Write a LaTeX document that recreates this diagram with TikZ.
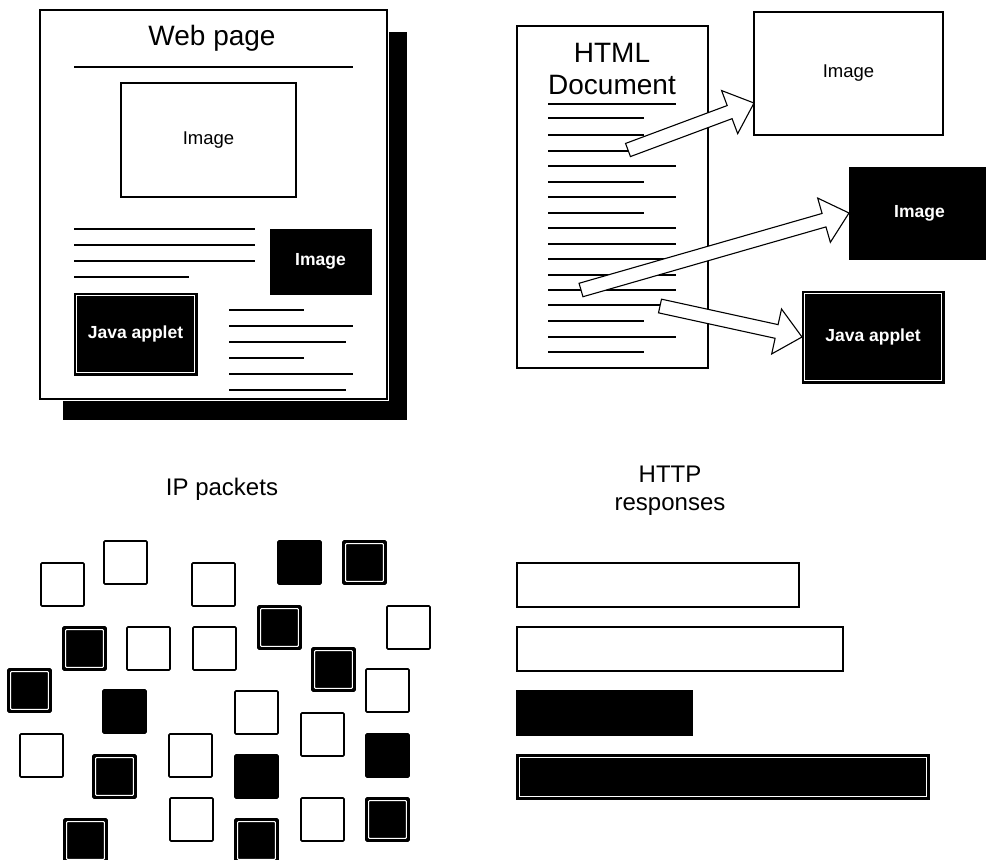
\documentclass[tikz,border=0pt]{standalone}
\usepackage{fontspec}
\setmainfont{Liberation Sans}
\usetikzlibrary{calc}

\tikzset{
  pagebox/.style={draw=black, fill=white, line width=1.2pt, inner sep=0pt, outer sep=0pt},
  wbox/.style={draw=black, fill=white, line width=1.3pt, inner sep=0pt, outer sep=0pt,
    font=\fontsize{18.5}{20}\selectfont},
  bbox/.style={draw=black, fill=black, line width=1pt, inner sep=0pt, outer sep=0pt,
    text=white, font=\bfseries\fontsize{17.5}{19}\selectfont},
  % black box with a thin white line just inside its border
  dbox/.style={bbox, path picture={
    \draw[white, line width=1.1pt]
      ($(path picture bounding box.north west)+(2.6pt,-2.6pt)$) rectangle
      ($(path picture bounding box.south east)+(-2.6pt,2.6pt)$);}},
  txtline/.style={line width=1.3pt},
  title/.style={anchor=base, font=\fontsize{28}{30}\selectfont},
  caption/.style={anchor=base, font=\fontsize{24}{26}\selectfont},
  blockarr/.style={draw=black, fill=white, line width=1.1pt, line join=miter},
  pkt/.style={minimum width=43pt, minimum height=43pt, anchor=north west,
    rounded corners=1pt, line width=1.6pt},
  pkw/.style={wbox, pkt},
  pkb/.style={bbox, pkt},
  pkd/.style={dbox, pkt},
  bar/.style={minimum height=44pt, anchor=north west, line width=1.5pt},
}

% block arrow from a tail point #1 to a tip point #2
\newcommand\blockarrow[2]{%
  \coordinate (#1neck) at ($(#2)!26pt!(#1)$);
  \draw[blockarr]
    ($(#1)!7pt!90:(#2)$) --
    ($(#1neck)!7pt!-90:(#1)$) --
    ($(#1neck)!23pt!-90:(#1)$) --
    (#2) --
    ($(#1neck)!23pt!90:(#1)$) --
    ($(#1neck)!7pt!90:(#1)$) --
    ($(#1)!7pt!-90:(#2)$) -- cycle;
}

\begin{document}
\begin{tikzpicture}[x=1pt, y=-1pt]
\useasboundingbox (0,0) rectangle (986,860);
\clip (0,0) rectangle (986,860);

% ---------- web page with drop shadow ----------
\fill[black] (63,32) rectangle (407,420);
\draw[white, line width=4.5pt] (40,10) rectangle (387,399);
\node[pagebox, minimum width=347pt, minimum height=389pt] (webpage) at (213.5,204.5) {};
\node[title] (wptitle) at (212,45) {Web page};
\draw[txtline] (74,67) -- (353,67);

\node[wbox, minimum width=175pt, minimum height=114pt] (wpimg) at (208.5,140) {Image};
\node[bbox, minimum width=101pt, minimum height=65pt] (wpimgb) at (320.5,261.5) {Image};
\node[dbox, minimum width=123pt, minimum height=82pt] (wpjava) at (135.5,334) {Java applet};

\draw[txtline] (74,229) -- (255,229);
\draw[txtline] (74,245) -- (255,245);
\draw[txtline] (74,261) -- (255,261);
\draw[txtline] (74,277) -- (189,277);

\draw[txtline] (229,310) -- (304,310);
\draw[txtline] (229,326) -- (353,326);
\draw[txtline] (229,342) -- (346,342);
\draw[txtline] (229,358) -- (304,358);
\draw[txtline] (229,374) -- (353,374);
\draw[txtline] (229,390) -- (346,390);

% ---------- HTML document and its parts ----------
\node[pagebox, minimum width=191pt, minimum height=342pt] (htmldoc) at (612.5,197) {};
\node[title] (htmlA) at (612,62) {HTML};
\node[title] (htmlB) at (612,94) {Document};
\draw[txtline] (548,104) -- (676,104);
\foreach \yy/\xe in {118/644, 135/644, 151/644, 166/676, 182/644, 197/676,
                     213/644, 228/676, 244/676, 259/676, 275/676, 290/676,
                     305/676, 321/644, 337/676, 352/644}
  \draw[txtline] (548,\yy) -- (\xe,\yy);

\node[wbox, minimum width=189pt, minimum height=123pt] (img1) at (848.5,73.5) {Image};
\node[bbox, minimum width=141pt, minimum height=92pt] (img2) at (919.5,213) {Image};
\node[dbox, minimum width=142pt, minimum height=92pt] (java2) at (873,337) {Java applet};

\coordinate (ta) at (628,150);
\coordinate (tb) at (581,290);
\coordinate (tc) at (660,306);
\coordinate (ha) at ($(img1.north west)!0.74!(img1.south west)$);
\blockarrow{ta}{ha}
\blockarrow{tb}{img2.west}
\blockarrow{tc}{java2.west}

% ---------- IP packets ----------
\node[caption] (iplabel) at (222,495) {IP packets};
\foreach \px/\py/\k [count=\i] in {
   41/563/w, 104/541/w, 192/563/w, 278/541/b, 343/541/d,
   63/627/d, 127/627/w, 193/627/w, 258/606/d, 387/606/w,
   312/648/d, 8/669/d, 103/690/b, 235/691/w, 366/669/w,
   20/734/w, 93/755/d, 169/734/w, 235/755/b, 301/713/w,
   366/734/b, 170/798/w, 301/798/w, 366/798/d, 64/819/d,
   235/819/d}
  \node[pk\k] (pkt\i) at (\px,\py) {};

% ---------- HTTP responses ----------
\node[caption] (httpA) at (670,482) {HTTP};
\node[caption] (httpB) at (670,510) {responses};
\node[wbox, bar, minimum width=282pt] (resp1) at (517,563) {};
\node[wbox, bar, minimum width=326pt] (resp2) at (517,627) {};
\node[bbox, bar, minimum width=175pt] (resp3) at (517,691) {};
\node[dbox, bar, minimum width=412pt] (resp4) at (517,755) {};

\end{tikzpicture}
\end{document}
